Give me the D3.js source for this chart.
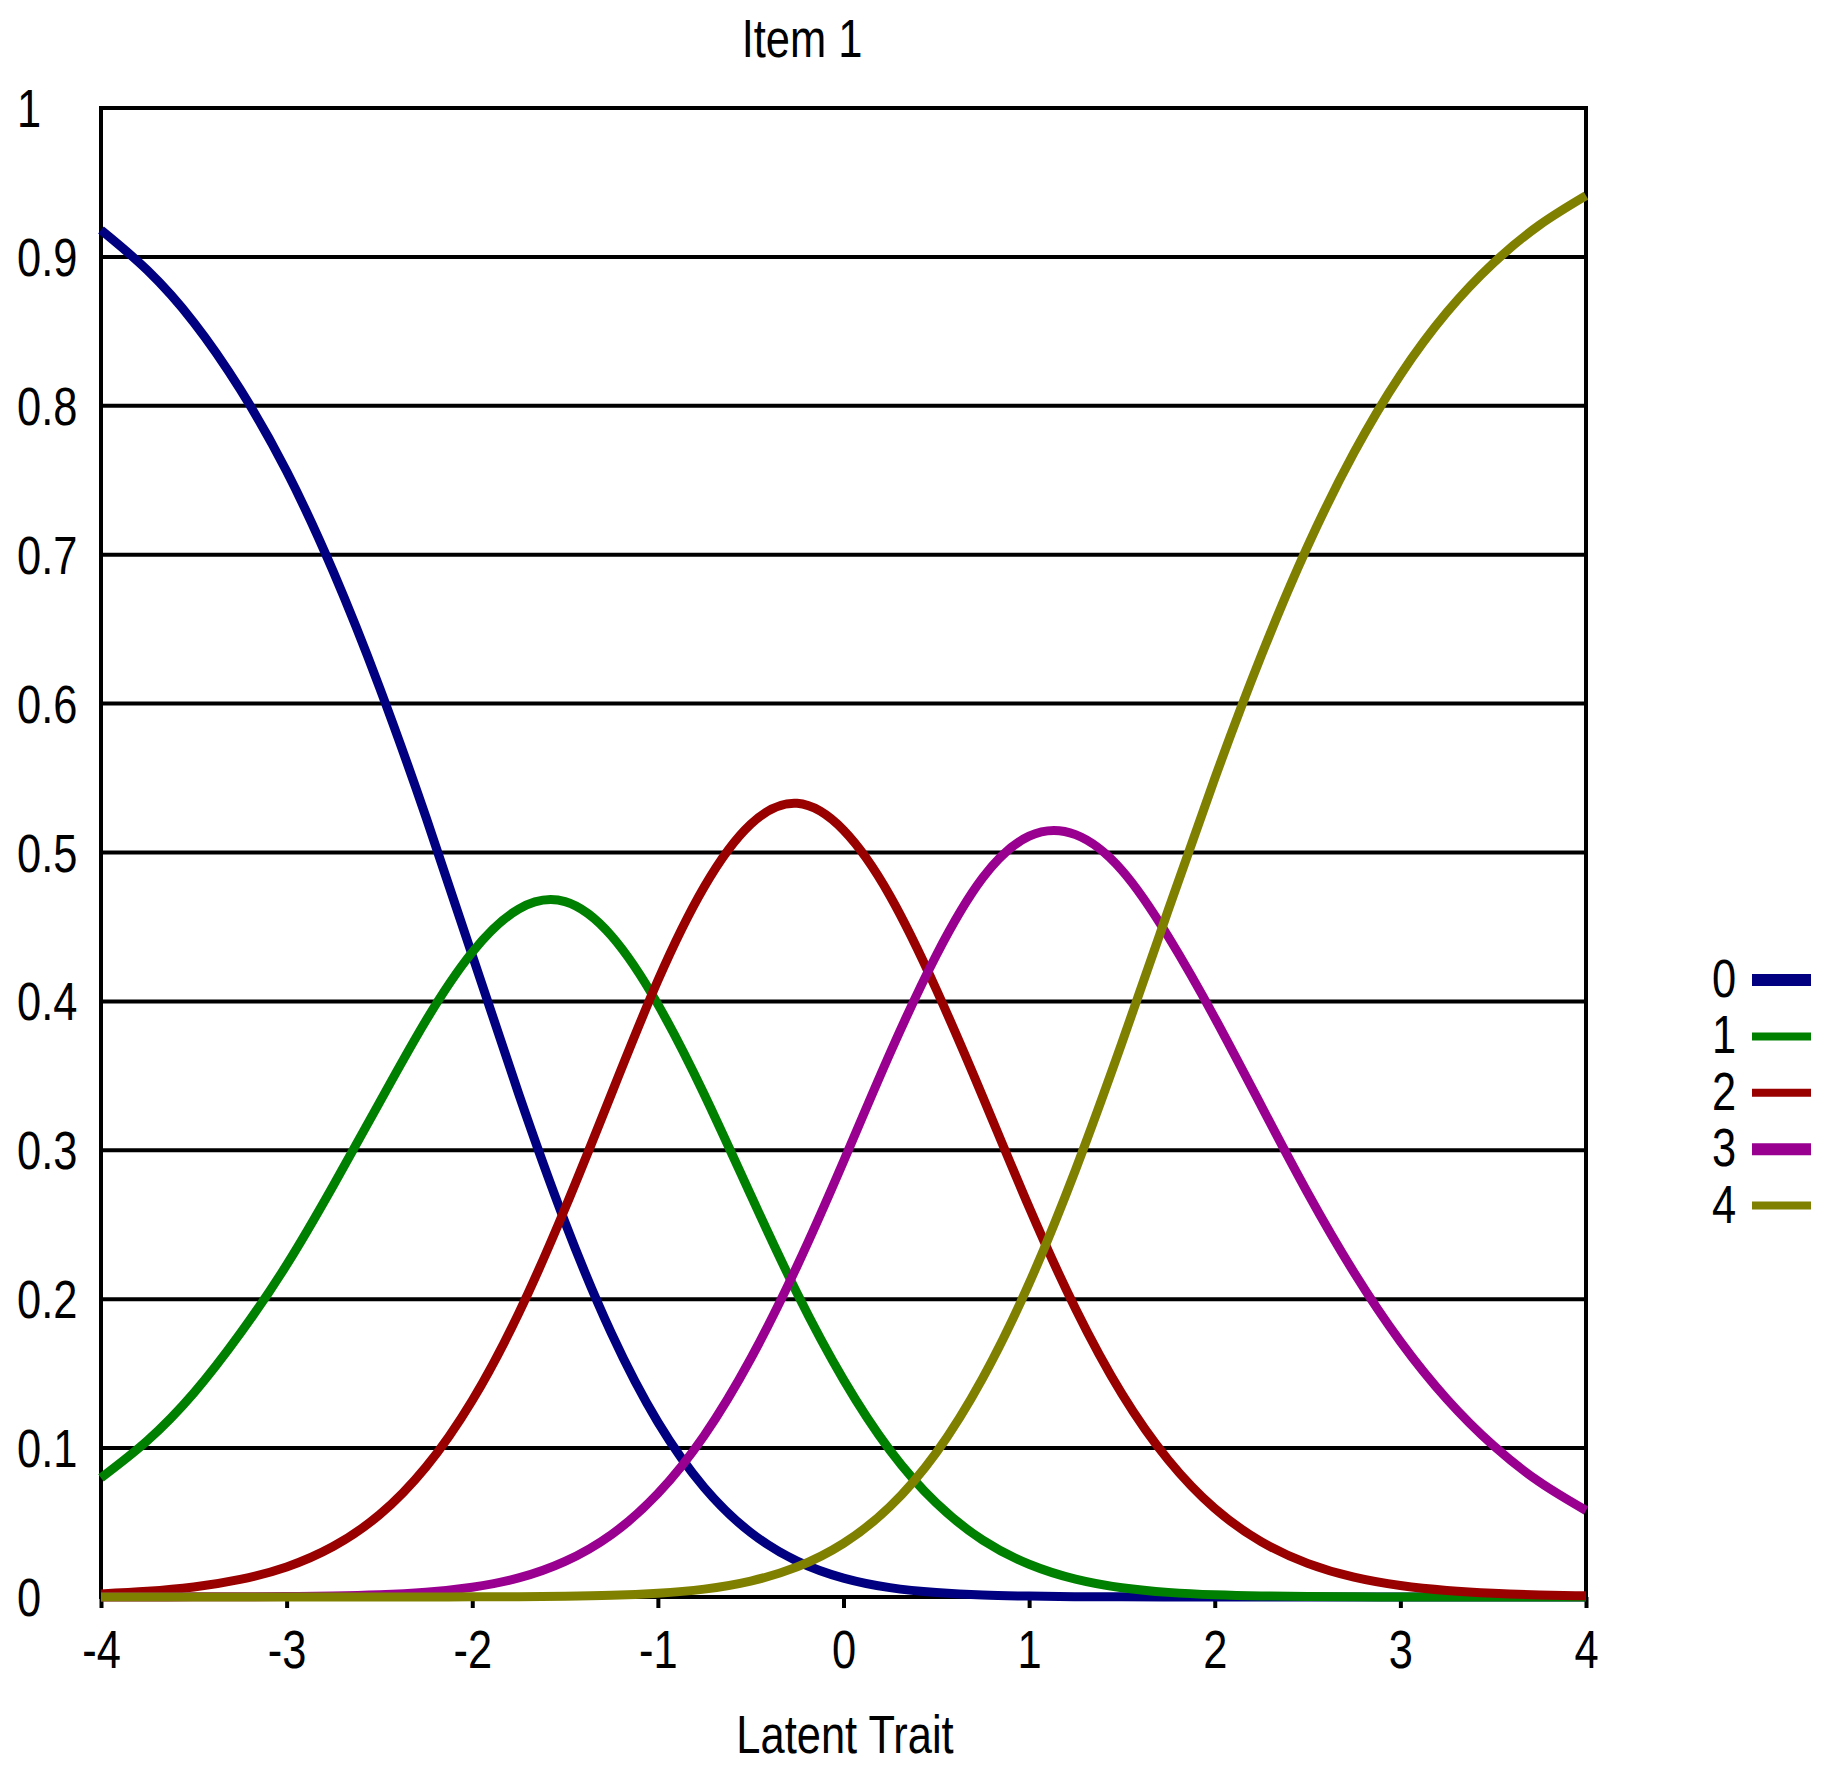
<!DOCTYPE html>
<html>
<head>
<meta charset="utf-8">
<script src="https://cdn.jsdelivr.net/npm/d3@7"></script>
<style>
  body { margin: 0; background: #fff; }
  text { font-family: "Liberation Sans", Arial, sans-serif; fill: #000; }
</style>
</head>
<body>
<div id="chart"></div>
<script>
// category response curves (theta steps of 0.25)
const theta = [-4, -3.75, -3.5, -3.25, -3, -2.75, -2.5, -2.25, -2, -1.75, -1.5, -1.25, -1, -0.75, -0.5, -0.25,
  0, 0.25, 0.5, 0.75, 1, 1.25, 1.5, 1.75, 2, 2.25, 2.5, 2.75, 3, 3.25, 3.5, 3.75, 4];

const cat0 = [0.918, 0.891, 0.856, 0.811, 0.756, 0.689, 0.611, 0.524, 0.431, 0.338, 0.2516, 0.177, 0.1174, 0.0735, 0.0433, 0.0241,
  0.0127, 0.0063, 0.003, 0.0013, 0.0006, 0.0002, 0.0001, 0, 0, 0, 0, 0, 0, 0, 0, 0, 0];
const cat1 = [0.080, 0.105, 0.137, 0.177, 0.223, 0.276, 0.332, 0.387, 0.433, 0.462, 0.467, 0.444, 0.398, 0.3375, 0.270, 0.204,
  0.146, 0.0986, 0.0631, 0.0382, 0.022, 0.012, 0.0062, 0.0031, 0.0015, 0.0007, 0.0003, 0.0001, 0, 0, 0, 0, 0];
const cat2 = [0.0021, 0.0038, 0.0067, 0.0118, 0.0202, 0.0339, 0.0552, 0.0872, 0.132, 0.1905, 0.261, 0.338, 0.414, 0.477, 0.519, 0.533,
  0.515, 0.471, 0.408, 0.336, 0.2617, 0.1936, 0.1364, 0.092, 0.0595, 0.0372, 0.0226, 0.0133, 0.0077, 0.0044, 0.0025, 0.0014, 0.0008];
const cat3 = [0, 0, 0.0001, 0.0001, 0.0003, 0.0007, 0.0015, 0.0032, 0.0066, 0.0128, 0.0239, 0.0419, 0.0695, 0.1085, 0.160, 0.2223,
  0.2925, 0.365, 0.431, 0.483, 0.511, 0.512, 0.488, 0.4434, 0.389, 0.330, 0.2715, 0.218, 0.1716, 0.133, 0.1018, 0.0772, 0.0581];
const cat4 = [0, 0, 0, 0, 0, 0, 0, 0, 0.0001, 0.0002, 0.0005, 0.0011, 0.0025, 0.0053, 0.0107, 0.0202,
  0.036, 0.0607, 0.097, 0.147, 0.2106, 0.2869, 0.3722, 0.4615, 0.5497, 0.632, 0.7056, 0.7685, 0.8207, 0.8627, 0.8957, 0.9214, 0.9411];

const categories = ["0", "1", "2", "3", "4"];
const series = [cat0, cat1, cat2, cat3, cat4];
const colors = ["#000080", "#008000", "#990000", "#990090", "#808000"];
const legendWidths = [12, 8, 8, 12, 8];

const xTicks = [-4, -3, -2, -1, 0, 1, 2, 3, 4];
const yTicks = [0, 0.1, 0.2, 0.3, 0.4, 0.5, 0.6, 0.7, 0.8, 0.9, 1];
const yTickLabels = ["0", "0.1", "0.2", "0.3", "0.4", "0.5", "0.6", "0.7", "0.8", "0.9", "1"];

const W = 1833, H = 1770;
const plotL = 101, plotR = 1586, plotT = 108, plotB = 1597;
const fs = 53;
const squeeze = 0.82; // the original font is narrow

const svg = d3.select("#chart").append("svg").attr("width", W).attr("height", H);

const x = d3.scaleLinear().domain([-4, 4]).range([plotL, plotR]);
const y = d3.scaleLinear().domain([0, 1]).range([plotB, plotT]);

// place a narrow text at (px, py)
function label(g, px, py, str, anchor) {
  return g.append("text")
    .attr("transform", `translate(${px},${py}) scale(${squeeze},1)`)
    .attr("text-anchor", anchor || "start")
    .attr("font-size", fs)
    .text(str);
}

// horizontal grid lines
svg.append("g").selectAll("line")
  .data(yTicks.filter(d => d > 0 && d < 1))
  .enter().append("line")
  .attr("x1", plotL).attr("x2", plotR)
  .attr("y1", d => y(d)).attr("y2", d => y(d))
  .attr("stroke", "#000").attr("stroke-width", 4);

// frame
svg.append("rect")
  .attr("x", plotL).attr("y", plotT)
  .attr("width", plotR - plotL).attr("height", plotB - plotT)
  .attr("fill", "none").attr("stroke", "#000").attr("stroke-width", 4);

// y labels, left aligned
const gy = svg.append("g");
yTicks.forEach((d, i) => label(gy, 17, y(d) + 19, yTickLabels[i]));

// x axis
const xAxis = d3.axisBottom(x).tickValues(xTicks).tickSize(11).tickFormat(d => String(d));
const gx = svg.append("g").attr("transform", `translate(0,${plotB})`).call(xAxis);
gx.select(".domain").remove();
gx.selectAll(".tick line").attr("stroke", "#000").attr("stroke-width", 4);
gx.selectAll(".tick text")
  .attr("font-size", fs)
  .attr("font-family", "'Liberation Sans', Arial, sans-serif")
  .attr("fill", "#000")
  .attr("dy", null)
  .attr("y", null)
  .attr("transform", `translate(0,71) scale(${squeeze},1)`);

// curves
const line = d3.line()
  .x((d, i) => x(theta[i]))
  .y(d => y(d))
  .curve(d3.curveNatural);

svg.append("g").selectAll("path")
  .data(series)
  .enter().append("path")
  .attr("d", line)
  .attr("fill", "none")
  .attr("stroke", (d, i) => colors[i])
  .attr("stroke-width", 9)
  .attr("stroke-linejoin", "round");

// title and axis title
label(svg, 802, 57, "Item 1", "middle");
label(svg, 845, 1753, "Latent Trait", "middle");

// legend
const leg = svg.append("g").selectAll("g")
  .data(categories)
  .enter().append("g")
  .attr("transform", (d, i) => `translate(0,${980 + i * 56.4})`);
leg.each(function (d) { label(d3.select(this), 1724, 17, d, "middle"); });
leg.append("line")
  .attr("x1", 1752).attr("x2", 1811)
  .attr("y1", 0).attr("y2", 0)
  .attr("stroke", (d, i) => colors[i])
  .attr("stroke-width", (d, i) => legendWidths[i]);
</script>
</body>
</html>
